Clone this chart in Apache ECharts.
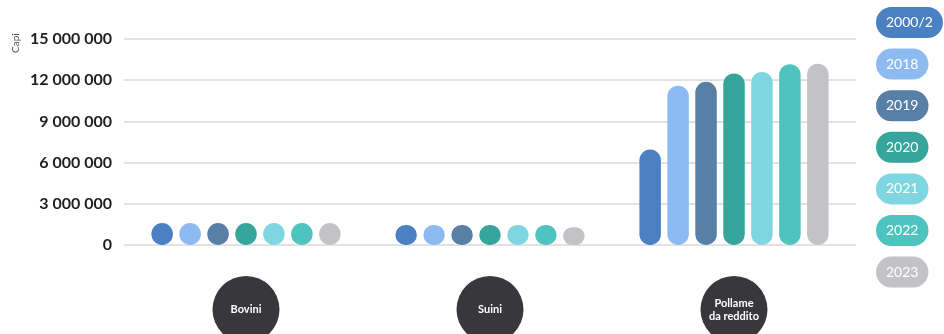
<!DOCTYPE html>
<html>
<head>
<meta charset="utf-8">
<script src="https://cdn.jsdelivr.net/npm/echarts@6/dist/echarts.min.js"></script>
<style>
html,body{margin:0;padding:0;background:#fff;}
#main{width:944px;height:334px;}
</style>
</head>
<body>
<div id="main"></div>
<script>
// categorie e anni
var categorie = ['Bovini', 'Suini', 'Pollame\nda reddito'];
var anni = ['2000/2', '2018', '2019', '2020', '2021', '2022', '2023'];
var colori = ['#4b80c3', '#8dbaf0', '#5880a6', '#36a59b', '#7ed6e0', '#4fc3c0', '#c3c3c7'];

// capi per anno: [Bovini, Suini, Pollame]
var v2000 = [1600000, 1450000, 6950000];
var v2018 = [1600000, 1450000, 11600000];
var v2019 = [1600000, 1450000, 11880000];
var v2020 = [1600000, 1450000, 12490000];
var v2021 = [1600000, 1450000, 12600000];
var v2022 = [1600000, 1450000, 13170000];
var v2023 = [1600000, 1300000, 13200000];
var valori = [v2000, v2018, v2019, v2020, v2021, v2022, v2023];

var yTicks = [0, 3000000, 6000000, 9000000, 12000000, 15000000];

var font = 'Lato, "Open Sans", sans-serif';

function migliaia(v){
	return String(v).replace(/\B(?=(\d{3})+(?!\d))/g, ' ');
}

var series = [];
for (var i = 0; i < anni.length; i++) {
	series.push({
		name: anni[i],
		type: 'bar',
		xAxisIndex: 0,
		yAxisIndex: 0,
		barWidth: 21.5,
		barGap: '30%',
		data: valori[i],
		itemStyle: {color: colori[i], borderRadius: 11}
	});
}

// cerchi scuri con le etichette delle categorie
series.push({
	type: 'scatter',
	xAxisIndex: 1,
	yAxisIndex: 1,
	symbolSize: 67,
	symbolOffset: [0, 3],
	clip: false,
	silent: true,
	data: categorie.map(function(){ return 0.5; }),
	itemStyle: {color: '#38383c', opacity: 1},
	label: {
		show: true,
		position: 'inside',
		color: '#fff',
		fontFamily: font,
		fontWeight: 'bold',
		fontSize: 11,
		lineHeight: 13,
		formatter: function(p){ return categorie[p.dataIndex]; }
	}
});

var legendData = anni.map(function(a, i){
	return {
		name: a,
		icon: 'none',
		textStyle: {
			color: '#fff',
			backgroundColor: colori[i],
			borderRadius: 16,
			padding: [8.5, 10],
			fontSize: 14,
			lineHeight: 14,
			fontFamily: font
		}
	};
});

var myChart = echarts.init(document.getElementById('main'));
myChart.setOption({
	animation: false,
	backgroundColor: '#fff',
	grid: [
		{left: 124, right: 88, top: 39, bottom: 89},
		{left: 124, right: 88, top: 279, height: 67}
	],
	legend: {
		orient: 'vertical',
		left: 866,
		top: 2,
		itemWidth: 0,
		itemHeight: 0,
		itemGap: 10.6,
		selectedMode: false,
		data: legendData
	},
	xAxis: [
		{
			type: 'category',
			gridIndex: 0,
			data: categorie,
			axisLine: {show: false},
			axisTick: {show: false},
			axisLabel: {show: false}
		},
		{
			type: 'category',
			gridIndex: 1,
			data: categorie,
			show: false
		}
	],
	yAxis: [
		{
			type: 'value',
			gridIndex: 0,
			min: yTicks[0],
			max: yTicks[yTicks.length - 1],
			interval: yTicks[1] - yTicks[0],
			axisLine: {show: false},
			axisTick: {show: false},
			splitLine: {lineStyle: {color: '#d9d9d9', width: 1.5}},
			axisLabel: {
				margin: 12,
				color: '#1e1e1e',
				fontFamily: font,
				fontWeight: 'bold',
				fontSize: 16,
				formatter: migliaia
			}
		},
		{
			type: 'value',
			gridIndex: 1,
			min: 0,
			max: 1,
			show: false
		}
	],
	graphic: [{
		type: 'text',
		x: 21,
		y: 53,
		rotation: Math.PI / 2,
		style: {
			text: 'Capi',
			fill: '#555',
			font: '10px ' + font,
			textAlign: 'left',
			textVerticalAlign: 'bottom'
		}
	}],
	series: series
});
</script>
</body>
</html>
